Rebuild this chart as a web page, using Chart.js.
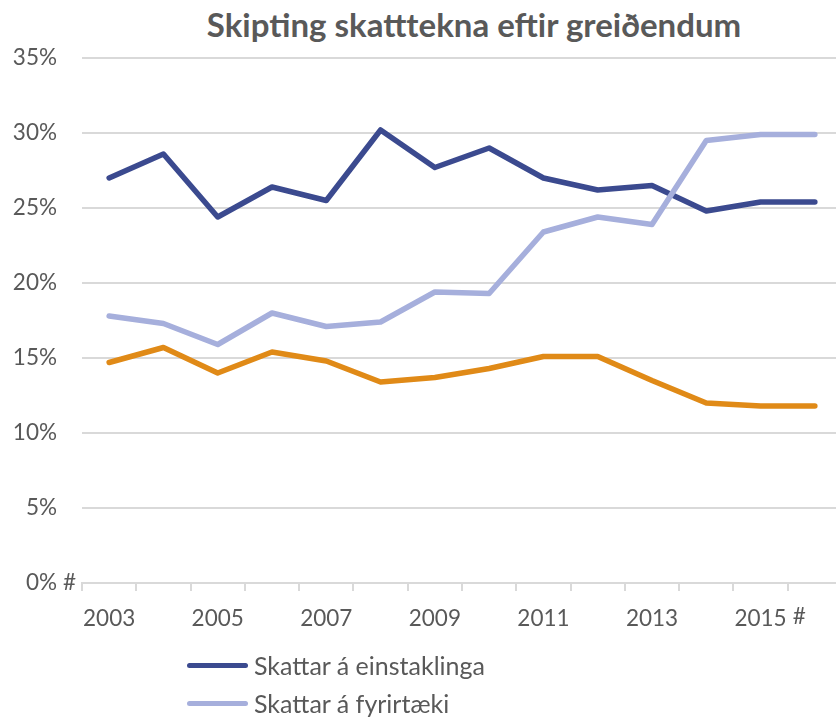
<!DOCTYPE html>
<html lang="is">
<head>
  <meta charset="UTF-8">
  <title>Skipting skatttekna eftir greiðendum</title>
  <script src="https://cdn.jsdelivr.net/npm/chart.js"></script>
  <style>
    html, body { margin: 0; padding: 0; background: #fff; overflow: hidden; }
    body { width: 836px; height: 717px; position: relative; font-family: Lato, sans-serif; color: #595959; }
    #wrap { position: absolute; left: 0; top: 0; width: 842px; height: 717px; }
    h1 { position: absolute; left: 0; top: 2px; width: 948px; margin: 0; text-align: center;
         font-size: 33px; font-weight: bold; line-height: 44px; }
    #legend { position: absolute; left: 187px; top: 646px; }
    .item { display: flex; align-items: center; height: 38px; font-size: 25px; }
    .item span.line { display: inline-block; width: 61px; height: 5px; border-radius: 3px; margin-right: 6px; }
  </style>
</head>
<body>
  <h1>Skipting skatttekna eftir greiðendum</h1>
  <div id="wrap"><canvas id="chart" width="842" height="717"></canvas></div>
  <div id="legend"></div>

  <script>
    // data (share of tax revenue)
    const years = ['2003','2004','2005','2006','2007','2008','2009','2010','2011','2012','2013','2014','2015','2016'];
    const einstaklingar = [27.0, 28.6, 24.4, 26.4, 25.5, 30.2, 27.7, 29.0, 27.0, 26.2, 26.5, 24.8, 25.4, 25.4];
    const fyrirtaeki = [17.8, 17.3, 15.9, 18.0, 17.1, 17.4, 19.4, 19.3, 23.4, 24.4, 23.9, 29.5, 29.9, 29.9];
    const annad = [14.7, 15.7, 14.0, 15.4, 14.8, 13.4, 13.7, 14.3, 15.1, 15.1, 13.5, 12.0, 11.8, 11.8];
    const seriesNames = ['Skattar á einstaklinga', 'Skattar á fyrirtæki', 'Aðrir skattar'];
    const seriesColors = ['#3b4a8f', '#a6afdc', '#e08a17'];
    const yTicks = [0, 5, 10, 15, 20, 25, 30, 35];
    const tickSuffix = { y: '0', x: '2015' };   // Excel leaves a stray " #" after these labels

    const textColor = '#595959';
    const gridColor = '#d9d9d9';
    const tickFont = { family: 'Lato', size: 22.5 };

    // draws the " #" that trails the 0% and 2015 labels
    const hashPlugin = {
      id: 'hash',
      afterDraw(chart) {
        const ctx = chart.ctx;
        const x = chart.scales.x, y = chart.scales.y;
        ctx.save();
        ctx.font = '22.5px Lato';
        ctx.fillStyle = textColor;
        ctx.textBaseline = 'middle';
        ctx.textAlign = 'left';
        // y label is right aligned, so find its right edge
        const yRight = x.left - y.options.ticks.padding;
        ctx.fillText('#', yRight + 6, y.getPixelForValue(Number(tickSuffix.y)));
        const i = years.indexOf(tickSuffix.x);
        const cx = x.getPixelForValue(i);
        const w = ctx.measureText(tickSuffix.x).width;
        const item = x.getLabelItems().find(it => it.label === tickSuffix.x);
        const ly = item ? item.options.translation[1] : 618;
        ctx.textBaseline = 'top';
        ctx.fillText('#', cx + w / 2 + 6, ly);
        ctx.restore();
      }
    };

    const datasets = seriesNames.map((name, i) => ({
      label: name,
      data: [einstaklingar, fyrirtaeki, annad][i],
      borderColor: seriesColors[i],
      backgroundColor: seriesColors[i],
      borderWidth: 5.5,
      borderCapStyle: 'round',
      borderJoinStyle: 'round',
      pointRadius: 0,
      tension: 0,
      order: 3 - i
    }));

    new Chart(document.getElementById('chart'), {
      type: 'line',
      data: { labels: years, datasets: datasets },
      options: {
        responsive: false,
        animation: false,
        layout: { padding: { top: 58, left: 0, right: 0, bottom: 0 } },
        plugins: { legend: { display: false }, title: { display: false }, tooltip: { enabled: false } },
        scales: {
          x: {
            offset: true,
            afterFit: s => { s.height = 717 - 583; },
            grid: { offset: true, drawOnChartArea: false, drawTicks: true, tickLength: 8, color: gridColor, lineWidth: 2 },
            border: { display: true, color: gridColor, width: 2 },
            ticks: {
              autoSkip: false, maxRotation: 0, color: textColor, font: tickFont, padding: 14,
              callback: (v, i) => i % 2 === 0 ? years[i] : ''
            }
          },
          y: {
            min: 0, max: 35,
            afterFit: s => { s.width = 82; },
            afterBuildTicks: s => { s.ticks = yTicks.map(v => ({ value: v })); },
            grid: { drawTicks: false, color: gridColor, lineWidth: 2 },
            border: { display: false },
            ticks: { color: textColor, font: tickFont, padding: 25, callback: v => v + '%' }
          }
        }
      },
      plugins: [hashPlugin]
    });

    const legend = document.getElementById('legend');
    seriesNames.forEach((name, i) => {
      const row = document.createElement('div');
      row.className = 'item';
      row.innerHTML = '<span class="line" style="background:' + seriesColors[i] + '"></span>' + name;
      legend.appendChild(row);
    });
  </script>
</body>
</html>
